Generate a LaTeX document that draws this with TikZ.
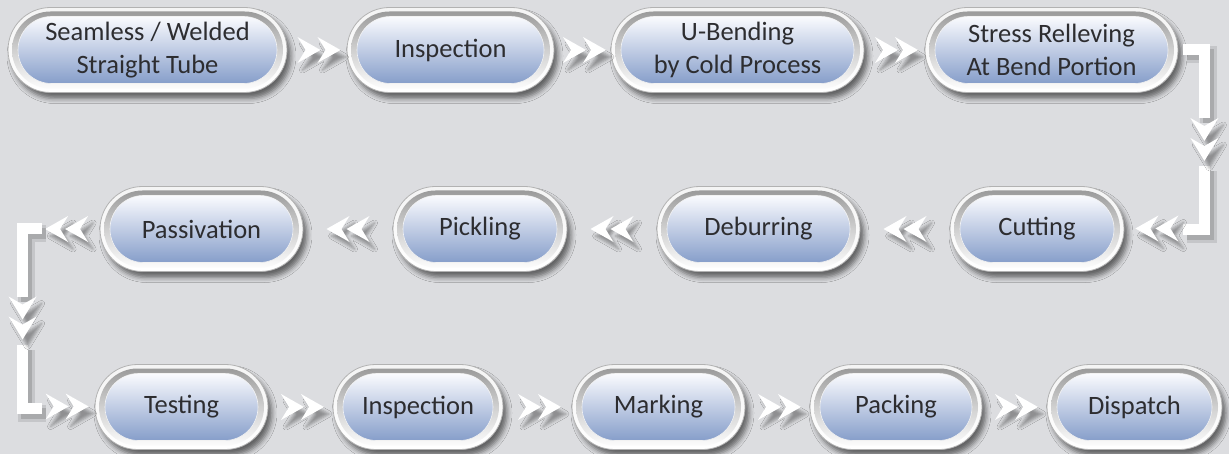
\documentclass[tikz,border=0pt]{standalone}
\usepackage{fontspec}
\setmainfont{Carlito}
\usetikzlibrary{shapes.misc,shadows.blur,calc}
\definecolor{bg}{RGB}{220,221,224}
\definecolor{txt}{RGB}{45,45,48}
\definecolor{ringedge}{RGB}{178,178,178}
\definecolor{ringtop}{RGB}{244,244,244}
\definecolor{ringbot}{RGB}{255,255,255}
\definecolor{rimtop}{RGB}{155,155,155}
\definecolor{rimmid}{RGB}{208,208,208}
\definecolor{rimbot}{RGB}{252,252,252}
\definecolor{pilltop}{RGB}{250,251,254}
\definecolor{pillmid}{RGB}{192,204,228}
\definecolor{pillbot}{RGB}{134,158,202}
\tikzset{
  ringA/.style={rounded rectangle, inner sep=0pt, minimum height=85pt, draw=ringedge, line width=0.8pt,
    top color=ringtop, bottom color=ringbot,
    blur shadow={shadow xshift=4pt, shadow yshift=-6pt, shadow blur radius=5pt, shadow opacity=55}},
  ringB/.style={rounded rectangle, inner sep=0pt, minimum height=77pt,
    top color=rimtop, bottom color=rimbot, middle color=rimmid},
  pillbox/.style={rounded rectangle, inner sep=0pt, minimum height=67pt, draw=white!90!gray, line width=0.6pt,
    top color=pilltop, bottom color=pillbot, middle color=pillmid,
    text=txt, font=\fontsize{26.5}{33}\selectfont, align=center},
  chev/.style={fill=white,
    blur shadow={shadow xshift=5pt, shadow yshift=-7pt, shadow blur radius=3pt, shadow opacity=35}},
  bar/.style={draw=white, line width=11pt, line join=miter,
    preaction={draw=black, opacity=0.10, line width=17pt, transform canvas={xshift=4pt,yshift=-5pt}},
    preaction={draw=black, opacity=0.14, line width=11pt, transform canvas={xshift=4pt,yshift=-5pt}}},
  chevR/.pic={\fill[chev] (-21.5,-13) -- (1.5,0) -- (-21.5,13) -- (-13.5,0) -- cycle
                          (-1.5,-13) -- (21.5,0) -- (-1.5,13) -- (6.5,0) -- cycle;},
  chevL/.pic={\fill[chev] (21.5,-13) -- (-1.5,0) -- (21.5,13) -- (13.5,0) -- cycle
                          (1.5,-13) -- (-21.5,0) -- (1.5,13) -- (-6.5,0) -- cycle;},
  chevD/.pic={\fill[chev] (-14,-21.5) -- (0,1.5) -- (14,-21.5) -- (0,-13.5) -- cycle
                          (-14,-1.5) -- (0,21.5) -- (14,-1.5) -- (0,6.5) -- cycle;},
}
\newcommand\stepnode[5]{%
  \node[ringA, minimum width=#4pt] (#1o) at (#2,#3) {};
  \node[ringB, minimum width=#4pt-8pt] (#1m) at (#2,#3) {};
  \node[pillbox, minimum width=#4pt-20pt] (#1) at (#2,#3) {#5};
}
\begin{document}
\begin{tikzpicture}[x=1pt,y=-1pt]
\fill[bg] (0,0) rectangle (1229,454);
\useasboundingbox (0,0) rectangle (1229,454);
% row 1
\stepnode{n1}{147.5}{50}{279}{Seamless / Welded\\Straight Tube}
\stepnode{n2}{450.5}{50}{207}{Inspection}
\stepnode{n3}{737.5}{50}{253}{U-Bending\\by Cold Process}
\stepnode{n4}{1051.5}{50}{253}{Stress Relleving\\At Bend Portion}
% row 2
\stepnode{n5}{1037}{229}{174}{Cutting}
\stepnode{n6}{758.5}{229}{203}{Deburring}
\stepnode{n7}{480}{229}{174}{Pickling}
\stepnode{n8}{201.5}{229}{203}{Passivation}
% row 3
\stepnode{n9}{181.5}{407}{173}{Testing}
\stepnode{n10}{418}{407}{170}{Inspection}
\stepnode{n11}{658.5}{407}{173}{Marking}
\stepnode{n12}{896}{407}{172}{Packing}
\stepnode{n13}{1134.5}{407}{175}{Dispatch}
% row 1 connectors
\pic at ($(n1o.east)!0.5!(n2o.west)+(2,0)$) {chevR};
\pic at ($(n2o.east)!0.5!(n3o.west)+(2,0)$) {chevR};
\pic at ($(n3o.east)!0.5!(n4o.west)+(2,0)$) {chevR};
% right bracket
\coordinate (rt) at ($(n4o.east)+(5,0)$);
\coordinate (rc) at ($(n4o.east)+(26,0)$);
\coordinate (m45) at ($(n4o)!0.5!(n5o)$);
\coordinate (rdn) at (rc |- m45);
\coordinate (rb) at ($(n5o.east)+(59,1)$);
\draw[bar] (rt) -| ($(rdn)+(0,-21)$);
\draw[bar] ($(rdn)+(0,27)$) |- (rb);
\pic at (rdn) {chevD};
\pic at ($(n5o.east)!0.5!(rb)+(3,-1)$) {chevL};
% row 2 connectors
\pic at ($(n6o.east)!0.5!(n5o.west)$) {chevL};
\pic at ($(n7o.east)!0.5!(n6o.west)$) {chevL};
\pic at ($(n8o.east)!0.5!(n7o.west)$) {chevL};
% left bracket
\coordinate (lt) at ($(n8o.west)+(-58,0)$);
\coordinate (lc) at ($(n8o.west)+(-77,0)$);
\coordinate (m89) at ($(n8o)!0.5!(n9o)$);
\coordinate (ldn) at (lc |- m89);
\coordinate (lb) at ($(n9o.west)+(-53,1)$);
\pic at ($(lt)!0.5!(n8o.west)+(-4,0)$) {chevL};
\draw[bar] (lt) -| ($(ldn)+(0,-21)$);
\draw[bar] ($(ldn)+(0,27)$) |- (lb);
\pic at (ldn) {chevD};
\pic at ($(lb)!0.5!(n9o.west)+(-1,-1)$) {chevR};
% row 3 connectors
\pic at ($(n9o.east)!0.5!(n10o.west)+(2,0)$) {chevR};
\pic at ($(n10o.east)!0.5!(n11o.west)+(2,0)$) {chevR};
\pic at ($(n11o.east)!0.5!(n12o.west)+(2,0)$) {chevR};
\pic at ($(n12o.east)!0.5!(n13o.west)+(2,0)$) {chevR};
\end{tikzpicture}
\end{document}
